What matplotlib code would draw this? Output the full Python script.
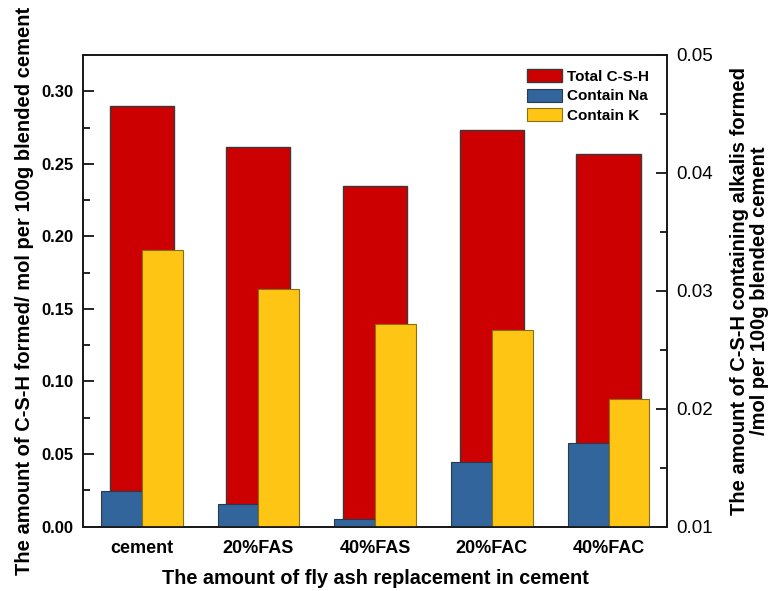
import numpy as np
import matplotlib
matplotlib.use("Agg")
import matplotlib.pyplot as plt
from matplotlib.ticker import MultipleLocator, FormatStrFormatter

plt.rcParams['font.family'] = ['Liberation Sans', 'DejaVu Sans']

categories = ["cement", "20%FAS", "40%FAS", "20%FAC", "40%FAC"]
total_csh = [0.2897, 0.2619, 0.2350, 0.2736, 0.2570]
contain_na = [0.0130, 0.0119, 0.01065, 0.0155, 0.0171]
contain_k = [0.03347, 0.03017, 0.02718, 0.02669, 0.02082]

red = "#CC0000"
blue = "#31659C"
yellow = "#FEC514"

fig = plt.figure(figsize=(7.68, 5.91), dpi=100)
ax1 = fig.add_axes([0.1085, 0.109, 0.7598, 0.798])
ax2 = ax1.twinx()

x = np.arange(len(categories))

ax1.bar(x, total_csh, width=0.55, color=red, edgecolor="#3a3a3a", linewidth=1.0,
        label="Total C-S-H", zorder=2)

base = 0.01
na_h = [v - base for v in contain_na]
k_h = [v - base for v in contain_k]
ax2.bar(x - 0.175, na_h, width=0.35, bottom=base, color=blue, edgecolor="#2a3a4a",
        linewidth=0.8, label="Contain Na", zorder=2)
ax2.bar(x + 0.175, k_h, width=0.35, bottom=base, color=yellow, edgecolor="#8a7010",
        linewidth=0.8, label="Contain K", zorder=2)

ax1.set_xlim(-0.5, 4.5)
ax1.set_ylim(0, 0.325)
ax2.set_ylim(0.01, 0.05)

ax1.set_xticks(x)
ax1.set_xticklabels(categories, fontsize=13, fontweight="bold")
ax1.tick_params(axis="x", length=0, pad=10)

ax1.yaxis.set_major_locator(MultipleLocator(0.05))
ax1.yaxis.set_minor_locator(MultipleLocator(0.025))
ax1.yaxis.set_major_formatter(FormatStrFormatter("%.2f"))
ax1.tick_params(axis="y", which="major", direction="in", length=8, width=1.2,
                labelsize=12, pad=7)
ax1.tick_params(axis="y", which="minor", direction="in", length=5, width=1.2)
for lbl in ax1.get_yticklabels():
    lbl.set_fontweight("bold")

ax2.yaxis.set_major_locator(MultipleLocator(0.01))
ax2.yaxis.set_minor_locator(MultipleLocator(0.005))
ax2.yaxis.set_major_formatter(FormatStrFormatter("%.2f"))
ax2.tick_params(axis="y", which="major", direction="in", length=8, width=1.2,
                labelsize=13.5, pad=7)
ax2.tick_params(axis="y", which="minor", direction="in", length=5, width=1.2)

for ax in (ax1, ax2):
    for sp in ax.spines.values():
        sp.set_linewidth(1.3)
        sp.set_color("#1a1a1a")

ax1.set_xlabel("The amount of fly ash replacement in cement", fontsize=14.3,
               fontweight="bold", labelpad=8)
ax1.set_ylabel("The amount of C-S-H formed/ mol per 100g blended cement",
               fontsize=14.5, fontweight="bold", labelpad=5)
ax2.set_ylabel("The amount of C-S-H containing alkalis formed\n/mol per 100g blended cement",
               fontsize=14.5, fontweight="bold", labelpad=12, linespacing=1.05)

h1, l1 = ax1.get_legend_handles_labels()
h2, l2 = ax2.get_legend_handles_labels()
leg = ax2.legend(h1 + h2, l1 + l2, loc="upper right", frameon=False,
                 prop={"size": 11, "weight": "bold"}, handlelength=2.3,
                 handleheight=0.96, handletextpad=0.35, labelspacing=0.3,
                 borderaxespad=0.0, bbox_to_anchor=(0.98, 0.983))

fig.savefig("out.png", dpi=100)
